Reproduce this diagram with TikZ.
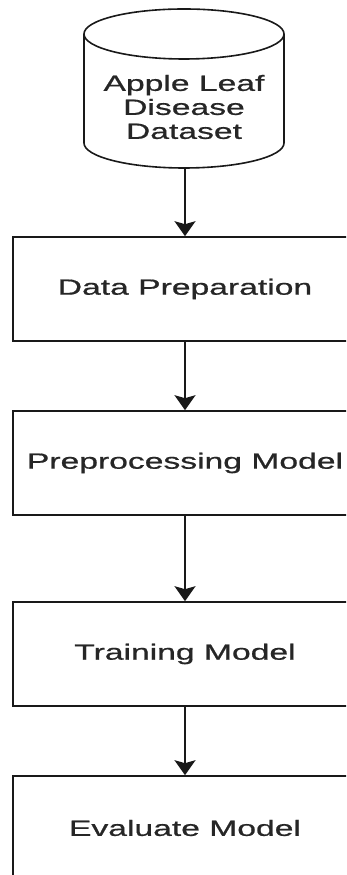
\documentclass[tikz,border=0pt]{standalone}
\usepackage{fontspec}
\setmainfont{Liberation Sans}
\newfontfamily\diagfont[FakeBold=0.6]{Liberation Sans}
\usetikzlibrary{arrows.meta}
\newcommand{\stretchtxt}[1]{\scalebox{1.53}[1]{#1}}
\tikzset{
  stepbox/.style={draw=black!90, line width=1.6pt, fill=white, minimum width=344pt, minimum height=104pt, inner sep=0pt, font=\diagfont\fontsize{22}{24}\selectfont, text=black!85},
  flowarrow/.style={line width=1.7pt, draw=black!90, -{Stealth[width=21pt,length=15pt,inset=3pt]}},
  cylline/.style={line width=1.6pt, draw=black!90}
}
\begin{document}
\begin{tikzpicture}[x=1pt,y=1pt]
\useasboundingbox (0,0) rectangle (346,875);
\clip (0,0) rectangle (346,875);
\fill[white] (0,0) rectangle (346,875);
% cylinder
\draw[cylline] (84,841) -- (84,732) arc[start angle=180,end angle=360,x radius=100pt,y radius=25pt] -- (284,841);
\draw[cylline] (184,841) ellipse [x radius=100pt, y radius=25pt];
\node[font=\diagfont\fontsize{22}{24}\selectfont, text=black!85, align=center, inner sep=0pt] (cyl) at (184,768) {\stretchtxt{Apple Leaf}\\\stretchtxt{Disease}\\\stretchtxt{Dataset}};
\coordinate (cylbot) at (185,707);
% boxes
\node[stepbox] (b1) at (185,586) {\stretchtxt{Data Preparation}};
\node[stepbox] (b2) at (185,412) {\stretchtxt{Preprocessing Model}};
\node[stepbox] (b3) at (185,221) {\stretchtxt{Training Model}};
\node[stepbox] (b4) at (185,47) {\stretchtxt{Evaluate Model}};
% arrows
\draw[flowarrow] (cylbot) -- (b1.north);
\draw[flowarrow] (b1.south) -- (b2.north);
\draw[flowarrow] (b2.south) -- (b3.north);
\draw[flowarrow] (b3.south) -- (b4.north);
\end{tikzpicture}
\end{document}
